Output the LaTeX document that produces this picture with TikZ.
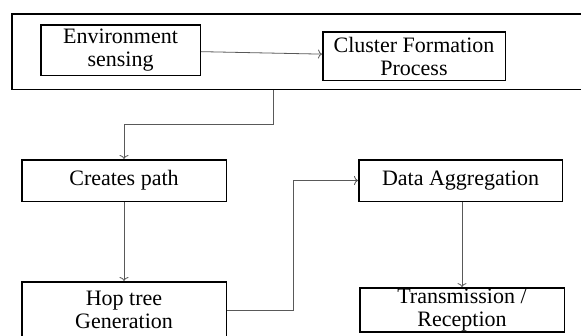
\documentclass[tikz,border=0pt]{standalone}
\usepackage{fontspec}
\setmainfont{Liberation Serif}
\usetikzlibrary{arrows.meta}
\tikzstyle{process} = [rectangle, minimum width=204.5pt, minimum height=41.5pt, inner sep=1pt, text centered, align=center, draw=black, line width=1.5pt, font=\fontsize{22}{23}\selectfont]
\tikzstyle{group} = [rectangle, draw=black, line width=1.5pt]
\tikzstyle{arrow} = [draw=black!65, line width=0.8pt, ->, >={To[length=4pt,width=9pt]}]

\begin{document}
\begin{tikzpicture}[x=1pt, y=1pt, node distance=129.5pt]
\useasboundingbox (0,0) rectangle (581,-335);
\node (Sense) [group, minimum width=620pt, minimum height=75.5pt] at (321.75,-51.5) {};
\node (Env) [process, minimum width=159.5pt, minimum height=50.5pt] at (120.5,-50) {Environment\\sensing};
\node (Cluster) [process, minimum width=182.5pt, minimum height=48.5pt] at (414,-56) {Cluster Formation\\Process};
\node (Path) [process] at (124,-180.5) {Creates path};
\node (Hop) [process, below of=Path, minimum height=56.5pt] {Hop tree\\Generation};
\node (Data) [process, right of=Path, node distance=336.5pt, minimum width=203.5pt] {Data Aggregation};
\node (Trans) [process, below of=Data, xshift=1.5pt, minimum height=42.5pt] {Transmission /\\Reception};

\draw [arrow] (Env) -- (Cluster);
\draw [arrow] ([xshift=-48.75pt]Sense.south) -- ++(0,-34) -| (Path.north);
\draw [arrow] (Path) -- (Hop);
\draw [arrow] (Hop.east) -- ++(66,0) |- (Data.west);
\draw [arrow] (Data.south -| Trans.north) -- (Trans.north);
\end{tikzpicture}
\end{document}
